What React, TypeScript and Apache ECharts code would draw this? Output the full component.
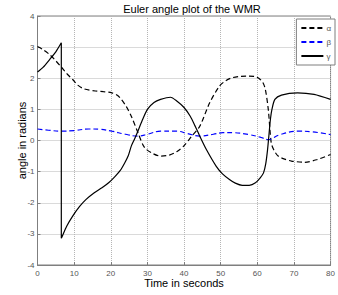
import React, { useEffect, useRef } from "react";
import * as echarts from "echarts";

const alphaT = [0, 1.5, 3.3, 5, 6.5, 8, 9.6, 11, 12.7, 15.8, 18, 20.3, 21.8, 22.9, 24.3, 25.6, 27.4, 29.2, 31.5, 33.6, 36, 38, 39.9, 42.1, 44.3, 47, 49.7, 51.5, 53.3, 55.5, 57.7, 59.5, 60.4, 61.5, 62.2, 63, 63.8, 64.5, 65.7, 67.5, 69.3, 72.9, 76.4, 80];
const alphaV = [3.02, 2.92, 2.76, 2.56, 2.36, 2.15, 1.96, 1.78, 1.66, 1.59, 1.57, 1.53, 1.45, 1.32, 1.08, 0.78, 0.26, -0.22, -0.42, -0.5, -0.47, -0.36, -0.18, 0.14, 0.46, 1.21, 1.75, 1.93, 2.02, 2.06, 2.07, 2.05, 2.0, 1.87, 1.64, 1.0, -0.07, -0.3, -0.5, -0.6, -0.66, -0.7, -0.61, -0.45];

const betaT = [0, 3, 6.5, 10, 14, 17, 20.3, 24, 27.4, 30, 33.6, 38, 41, 44.3, 48, 50.6, 53.3, 57.7, 61, 63, 66, 71, 75, 80];
const betaV = [0.37, 0.33, 0.3, 0.32, 0.37, 0.36, 0.3, 0.2, 0.14, 0.2, 0.3, 0.3, 0.22, 0.14, 0.2, 0.25, 0.25, 0.19, 0.1, 0.03, 0.18, 0.3, 0.28, 0.19];

const gamma1T = [0, 1.5, 3.3, 5, 6.5];
const gamma1V = [2.2, 2.35, 2.6, 2.85, 3.14];

const gamma2T = [6.5, 6.6, 8, 9.6, 11.5, 13.2, 15.5, 17.6, 19.5, 21.2, 22.6, 23.8, 24.8, 25.6, 26.5, 27.4, 28.5, 30, 31.8, 33.6, 36.3, 38.1, 40, 41.7, 43, 44.3, 46.1, 48.8, 50.5, 52.4, 54, 55.9, 57.8, 59.5, 60.8, 61.7, 62.3, 62.8, 63.2, 63.6, 64, 64.8, 66.6, 71, 75.5, 80];
const gamma2V = [-3.14, -3.12, -2.75, -2.43, -2.12, -1.9, -1.68, -1.52, -1.35, -1.15, -0.96, -0.72, -0.48, -0.18, 0.05, 0.3, 0.62, 1.0, 1.22, 1.32, 1.39, 1.26, 1.06, 0.78, 0.47, 0.14, -0.29, -0.83, -1.07, -1.25, -1.37, -1.44, -1.44, -1.36, -1.2, -1.04, -0.75, -0.3, 0.2, 0.7, 1.0, 1.32, 1.46, 1.53, 1.48, 1.32];

const xTicks = [0, 10, 20, 30, 40, 50, 60, 70, 80];
const yTicks = [-4, -3, -2, -1, 0, 1, 2, 3, 4];

const zip = (t: number[], v: number[]) => t.map((x, i) => [x, v[i]]);

export default function App() {
  const ref = useRef<HTMLDivElement>(null);
  useEffect(() => {
    if (!ref.current) return;
    const chart = echarts.init(ref.current, undefined, { renderer: "svg" });
    const font = "Liberation Sans, Arial, sans-serif";
    const axisCommon = {
      axisLine: { show: true, onZero: false, lineStyle: { color: "#7f7f7f", width: 1 } },
      axisTick: { show: true, inside: true, length: 3, lineStyle: { color: "#7f7f7f" } },
      axisLabel: { color: "#555", fontSize: 8, fontFamily: font },
      splitLine: { show: true, lineStyle: { color: "#b5b5b5", type: "dotted", width: 1 } },
      nameTextStyle: { color: "#000", fontSize: 11, fontFamily: font },
      nameMoveOverlap: false,
    };
    chart.setOption({
      animation: false,
      backgroundColor: "#fff",
      title: {
        text: "Euler angle plot of the WMR",
        left: 187,
        textAlign: "center",
        top: -2,
        textStyle: { fontSize: 11, fontWeight: "normal", color: "#000", fontFamily: font },
      },
      grid: { left: 37.5, right: 2, top: 16, bottom: 30, show: true, borderColor: "#7f7f7f", borderWidth: 1, backgroundColor: "transparent" },
      legend: {
        orient: "vertical",
        right: 3,
        top: 19,
        data: ["α", "β", "γ"],
        itemWidth: 22,
        itemHeight: 8,
        itemGap: 6,
        padding: [5, 4, 5, 4],
        borderColor: "#7f7f7f",
        borderWidth: 1,
        backgroundColor: "#fff",
        itemStyle: { opacity: 0 },
        textStyle: { fontSize: 8, color: "#555", fontFamily: font, padding: [0, 0, 0, -2] },
      },
      xAxis: {
        type: "value",
        min: 0,
        max: 80,
        interval: 10,
        name: "Time in seconds",
        nameLocation: "middle",
        nameGap: 12,
        ...axisCommon,
        axisLabel: { ...axisCommon.axisLabel, margin: 4, formatter: (v: number) => (xTicks.includes(v) ? String(v) : "") },
      },
      yAxis: {
        type: "value",
        min: -4,
        max: 4,
        interval: 1,
        name: "angle in radians",
        nameLocation: "middle",
        nameGap: 10,
        ...axisCommon,
        axisLabel: { ...axisCommon.axisLabel, margin: 3, formatter: (v: number) => (yTicks.includes(v) ? String(v) : "") },
      },
      series: [
        {
          name: "α",
          type: "line",
          data: zip(alphaT, alphaV),
          smooth: 0.3,
          showSymbol: false,
          symbol: "none",
          lineStyle: { color: "#000", width: 1.2, type: [5, 3] },
          itemStyle: { color: "#000" },
        },
        {
          name: "β",
          type: "line",
          data: zip(betaT, betaV),
          smooth: 0.4,
          showSymbol: false,
          symbol: "none",
          lineStyle: { color: "#0000ff", width: 1.2, type: [5, 3] },
          itemStyle: { color: "#0000ff" },
        },
        {
          name: "γ",
          type: "line",
          data: zip(gamma1T, gamma1V).concat(zip(gamma2T, gamma2V)),
          smooth: 0.25,
          showSymbol: false,
          symbol: "none",
          lineStyle: { color: "#000", width: 1.2 },
          itemStyle: { color: "#000" },
        },
      ],
    });
    return () => chart.dispose();
  }, []);
  return <div ref={ref} style={{ width: 338, height: 295, position: "absolute", left: 0, top: 0 }} />;
}
